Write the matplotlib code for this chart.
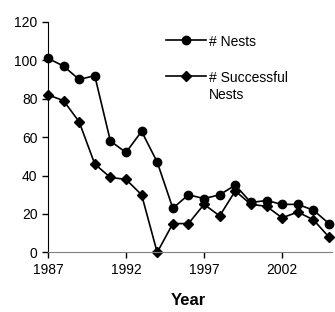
import numpy as np
import matplotlib
matplotlib.use("Agg")
from matplotlib import pyplot as plt

plt.rcParams['font.family'] = ['Liberation Sans', 'DejaVu Sans']

#Data
years = np.arange(1987, 2006)
nests = [101, 97, 90, 92, 58, 52, 63, 47, 23, 30, 28, 30, 35, 26, 27, 25, 25, 22, 15]
successful = [82, 79, 68, 46, 39, 38, 30, 0, 15, 15, 25, 19, 32, 25, 24, 18, 21, 17, 8]
xticks = [1987, 1992, 1997, 2002]
yticks = [0, 20, 40, 60, 80, 100, 120]

fig = plt.figure(figsize=(3.35, 3.12), dpi=100)
ax = fig.add_axes([0.143, 0.191, 0.839, 0.739])

ax.plot(years, nests, color='black', lw=1.2, marker='o', ms=6, clip_on=False, label='# Nests')
ax.plot(years, successful, color='black', lw=1.2, marker='D', ms=5.5, clip_on=False, label='# Successful\nNests')

ax.set_xlim(1987, 2005)
ax.set_ylim(0, 120)
ax.set_xticks(xticks)
ax.set_yticks(yticks)
ax.tick_params(labelsize=10, direction='out', length=4, width=1)
ax.spines['top'].set_visible(False)
ax.spines['right'].set_visible(False)
ax.spines['bottom'].set_color('gray')
ax.spines['bottom'].set_bounds(1987, 2005.2)
ax.set_xlabel('Year', fontsize=12, fontweight='bold', labelpad=12)

leg = ax.legend(loc='upper left', bbox_to_anchor=(0.375, 0.995), frameon=False,
                fontsize=10, handlelength=2.9, handletextpad=0.2, labelspacing=1.58)
# handle next to first line of a two-line label
for col in leg._legend_handle_box.get_children():
    for item in col.get_children():
        item.align = 'top'

fig.savefig('out.png', dpi=100)
